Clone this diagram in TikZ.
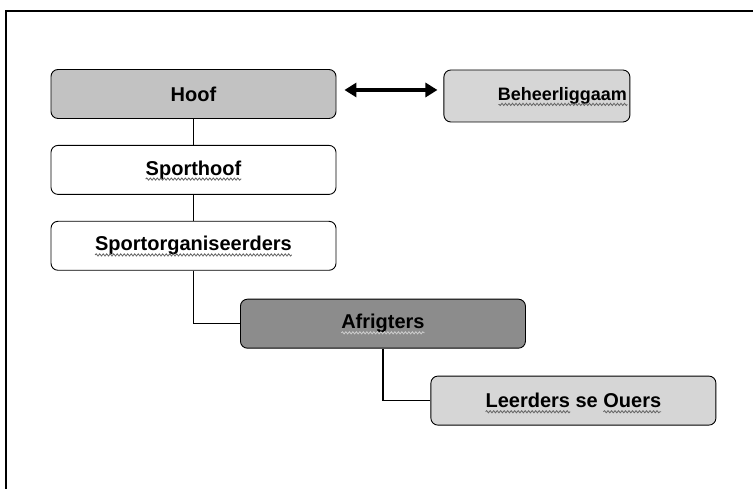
\documentclass[tikz,border=0pt]{standalone}
\usepackage{fontspec}
\setmainfont{Liberation Sans}
\usetikzlibrary{positioning,arrows.meta,decorations.pathmorphing}
\newcommand\groot{\bfseries\fontsize{20}{24}\selectfont}
\newcommand\middel{\bfseries\fontsize{18}{22}\selectfont}
\newlength\bSporthoof
\newlength\bOrganiseerders
\newlength\bAfrigters
\newlength\bBeheer
\newlength\kronkelRy
\newlength\kronkelLeer
\newlength\kronkelOuer
\AtBeginDocument{%
	\settowidth\bSporthoof{\groot Sporthoof}%
	\settowidth\bOrganiseerders{\groot Sportorganiseerders}%
	\settowidth\bAfrigters{\groot Afrigters}%
	\settowidth\bBeheer{\middel Beheerliggaam}%
	\settowidth\kronkelRy{\groot Leerders se Ouers}%
	\settowidth\kronkelLeer{\groot Leerders}%
	\settowidth\kronkelOuer{\groot Ouers}}
\definecolor{grys}{HTML}{C2C2C2}
\definecolor{liggrys}{HTML}{D6D6D6}
\definecolor{donkergrys}{HTML}{8C8C8C}
\tikzset{
	blok/.style={rectangle, rounded corners=7pt, draw=black, line width=0.9pt,
		minimum width=285pt, minimum height=49pt, text centered, font=\groot},
	hoofblok/.style={blok, fill=grys},
	witblok/.style={blok, fill=white},
	donkerblok/.style={blok, fill=donkergrys},
	ligblok/.style={blok, fill=liggrys},
	lyn/.style={draw=black, line width=1.1pt},
	pyl/.style={line width=3.8pt, {Triangle[length=12pt,width=14pt]}-{Triangle[length=12pt,width=14pt]}},
	kronkel/.style={draw=#1, line width=0.8pt, decorate,
		decoration={snake, amplitude=1.1pt, segment length=3.5pt}},
	kronkel/.default=black!60
}
\begin{document}
\begin{tikzpicture}[x=1pt,y=1pt,node distance=26pt]
			\useasboundingbox (0,0) rectangle (753,489);
			% raam
			\draw[line width=1.4pt] (6,0) -- (6,478) -- (753,478);
			
			\node[hoofblok] (hoof) at (193.5,395) {Hoof};
			\node[ligblok, minimum width=0pt, text width=180pt, inner xsep=3pt,
				minimum height=52pt, align=right, font=\middel,
				right=107pt of hoof, yshift=-2pt] (beheer) {Beheerliggaam};
			\node[witblok, below=of hoof] (sporthoof) {Sporthoof};
			\node[witblok, below=of sporthoof] (organiseerders) {Sportorganiseerders};
			
			\node[donkerblok, below right=28pt and 46.5pt of organiseerders.south] (afrigters) {Afrigters};
			\node[ligblok, below right=27pt and 47.5pt of afrigters.south] (ouers) {Leerders se Ouers};
			
			% verbindings
			\draw[lyn] (hoof) -- (sporthoof);
			\draw[lyn] (sporthoof) -- (organiseerders);
			\draw[lyn] (organiseerders.south) |- (afrigters.west);
			\draw[lyn] (afrigters.south) |- (ouers.west);
			\draw[pyl, shorten <=8pt, shorten >=6pt] ([yshift=4pt]hoof.east) -- ([yshift=4pt]hoof.east -| beheer.west);
			
			% spelkronkels onder die woorde
			\draw[kronkel] ([xshift=-.5\bSporthoof, yshift=-4pt]sporthoof.base) -- ++(\bSporthoof,0);
			\draw[kronkel] ([xshift=-.5\bOrganiseerders, yshift=-4pt]organiseerders.base) -- ++(\bOrganiseerders,0);
			\draw[kronkel=black!20] ([xshift=-.5\bAfrigters, yshift=-4pt]afrigters.base) -- ++(\bAfrigters,0);
			\draw[kronkel] ([xshift=-3pt, yshift=-3.8pt]beheer.base east) -- ++(-\bBeheer,0);
			\coordinate (leerbegin) at ([xshift=-.5\kronkelRy, yshift=-4pt]ouers.base);
			\coordinate (ouereinde) at ([xshift=.5\kronkelRy, yshift=-4pt]ouers.base);
			\draw[kronkel] (leerbegin) -- ([xshift=\kronkelLeer]leerbegin);
			\draw[kronkel] ([xshift=-\kronkelOuer]ouereinde) -- (ouereinde);
		\end{tikzpicture}
\end{document}
